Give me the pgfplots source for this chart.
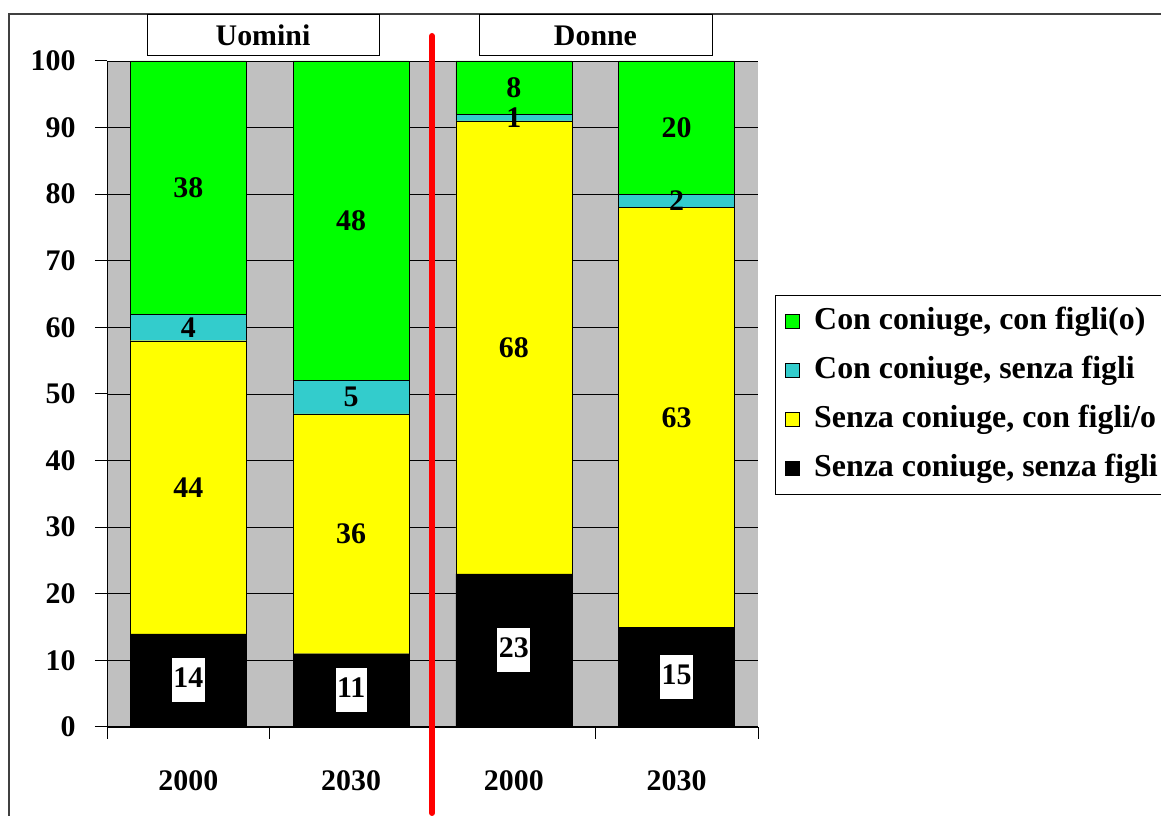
\documentclass[border=0pt]{standalone}
\usepackage{pgfplots}
\pgfplotsset{compat=1.18}
\usepackage{fontspec}
\setmainfont{Liberation Serif}

\definecolor{verde}{HTML}{00FF00}
\definecolor{ciano}{HTML}{33CCCC}
\definecolor{giallo}{HTML}{FFFF00}
\definecolor{sfondo}{HTML}{C0C0C0}
\definecolor{cornice}{HTML}{404040}

\newcommand{\bigfont}{\fontsize{30}{32}\selectfont\bfseries}

\begin{document}
\begin{tikzpicture}[x=1bp,y=1bp]
	\useasboundingbox (0,0) rectangle (1161,816);
	% cornice esterna (tagliata a destra e in basso)
	\draw[cornice, line width=1.5bp] (9,-10) -- (9,802) -- (1175,802);
	%
	\begin{axis}[
		at={(107bp,89bp)}, anchor=south west,
		scale only axis, width=651bp, height=666bp,
		ybar stacked, bar width=116bp,
		xmin=-0.5, xmax=3.5, ymin=0, ymax=100,
		axis x line*=bottom, axis y line*=left,
		axis line style={-, black, line width=1bp},
		axis background/.style={fill=sfondo},
		ytick={0,10,...,100},
		xtick={-0.5,0.5,1.5,2.5,3.5}, xticklabels={},
		extra x ticks={0,1,2,3},
		extra x tick labels={2000,2030,2000,2030},
		extra x tick style={major tick length=0pt},
		tick align=outside,
		major tick length=12bp,
		tick style={black, line width=1bp},
		ymajorgrids, major grid style={black, line width=0.9bp},
		tick label style={font=\fontsize{30}{30}\selectfont\bfseries},
		/pgf/number format/assume math mode=true,
		xticklabel style={yshift=-40bp},
		yticklabel style={xshift=-16bp},
		% etichette al centro di ogni segmento
		nodes near coords,
		every node near coord/.append style={
			anchor=center, text=black, font=\bigfont, inner sep=2bp},
		reverse legend,
		legend cell align=left,
		legend image code/.code={
			\draw[#1, draw=black, line width=0.8bp] (0bp,-7bp) rectangle (14bp,7bp);},
		legend style={
			at={(1.026,0.6486)}, anchor=north west,
			draw=black, line width=1bp, fill=white,
			font=\fontsize{32}{33}\selectfont\bfseries,
			inner sep=10bp, row sep=17bp,
			/tikz/every odd column/.append style={column sep=12bp},
			nodes={inner sep=2bp, text height=22bp, text depth=6bp}},
	]
	%
	\addplot[fill=black, draw=black,
		every node near coord/.append style={fill=white,
			inner xsep=1.5bp, inner ysep=7bp, text height=22bp, text depth=8bp}] coordinates {
		(0, 14) (1, 11) (2, 23) (3, 15)
	};
	\addlegendentry{Senza coniuge, senza figli}
	%
	\addplot[fill=giallo, draw=black] coordinates {
		(0, 44) (1, 36) (2, 68) (3, 63)
	};
	\addlegendentry{Senza coniuge, con figli/o}
	%
	\addplot[fill=ciano, draw=black] coordinates {
		(0, 4) (1, 5) (2, 1) (3, 2)
	};
	\addlegendentry{Con coniuge, senza figli}
	%
	\addplot[fill=verde, draw=black] coordinates {
		(0, 38) (1, 48) (2, 8) (3, 20)
	};
	\addlegendentry{Con coniuge, con figli(o)}
	%
	\end{axis}
	%
	% intestazioni dei gruppi
	\node[draw=black, line width=1bp, fill=white, minimum width=232bp, minimum height=41bp,
		inner sep=0pt, font=\bigfont] at (263,780.5) {Uomini};
	\node[draw=black, line width=1bp, fill=white, minimum width=233bp, minimum height=41bp,
		inner sep=0pt, font=\bigfont] at (595.5,780.5) {Donne};
	% linea rossa di separazione
	\draw[red, line width=6bp, line cap=round] (432,780) -- (432,3);
\end{tikzpicture}
\end{document}
